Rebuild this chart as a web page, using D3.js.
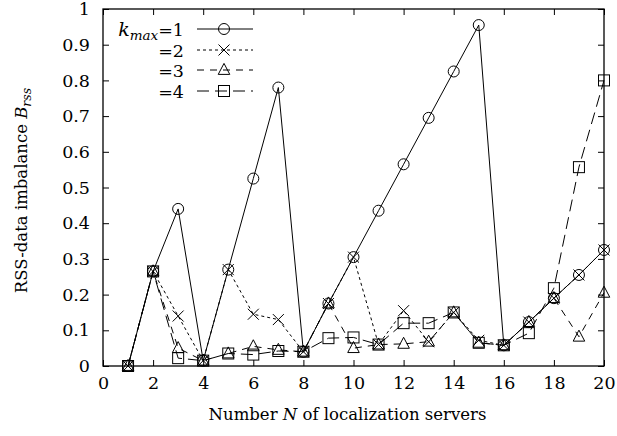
<!DOCTYPE html>
<html>
<head>
<meta charset="utf-8">
<script src="https://cdn.jsdelivr.net/npm/d3@7"></script>
<style>
  html, body { margin: 0; padding: 0; background: #fff; }
  svg { display: block; }
  svg text { font-family: "DejaVu Serif", serif; fill: #000; }
</style>
</head>
<body>
<svg id="chart" width="617" height="436"></svg>
<script>
// Number of localization servers N
const servers = [1, 2, 3, 4, 5, 6, 7, 8, 9, 10, 11, 12, 13, 14, 15, 16, 17, 18, 19, 20];

// RSS-data imbalance B_rss for each k_max
const kmax1 = [0, 0.265, 0.44, 0.015, 0.27, 0.525, 0.78, 0.04, 0.175, 0.305, 0.435, 0.565, 0.695, 0.825, 0.955, 0.058, 0.123, 0.19, 0.255, 0.325];
const kmax2 = [0, 0.265, 0.14, 0.015, 0.27, 0.145, 0.13, 0.04, 0.175, 0.305, 0.06, 0.155, 0.068, 0.15, 0.072, 0.058, 0.123, 0.19, 0.255, 0.325];
const kmax3 = [0, 0.265, 0.05, 0.015, 0.035, 0.055, 0.045, 0.04, 0.175, 0.05, 0.06, 0.062, 0.068, 0.15, 0.065, 0.058, 0.123, 0.19, 0.082, 0.205];
const kmax4 = [0, 0.265, 0.022, 0.015, 0.035, 0.032, 0.042, 0.04, 0.078, 0.08, 0.06, 0.12, 0.12, 0.15, 0.065, 0.058, 0.092, 0.218, 0.557, 0.8];

const seriesLabels = ["=1", "=2", "=3", "=4"];

const xTicks = [0, 2, 4, 6, 8, 10, 12, 14, 16, 18, 20];
const yTicks = [0, 0.1, 0.2, 0.3, 0.4, 0.5, 0.6, 0.7, 0.8, 0.9, 1];
const yTickLabels = ["0", "0.1", "0.2", "0.3", "0.4", "0.5", "0.6", "0.7", "0.8", "0.9", "1"];

const svg = d3.select("#chart");
const plotLeft = 103, plotRight = 604, plotTop = 9, plotBottom = 366;
const x = d3.scaleLinear().domain([0, 20]).range([plotLeft, plotRight]);
const y = d3.scaleLinear().domain([0, 1]).range([plotBottom, plotTop]);
const tickFont = 17.5;
const titleFont = 16.5;

// Axes with inward ticks, mirrored on top and right
const tickLen = 6;
svg.append("g").attr("transform", `translate(0,${plotBottom})`)
  .call(d3.axisBottom(x).tickValues(xTicks).tickSize(-tickLen).tickPadding(11).tickFormat(d3.format("d")))
  .call(g => g.select(".domain").remove());
svg.append("g").attr("transform", `translate(0,${plotTop})`)
  .call(d3.axisTop(x).tickValues(xTicks).tickSize(-tickLen).tickFormat(""))
  .call(g => g.select(".domain").remove());
svg.append("g").attr("transform", `translate(${plotLeft},0)`)
  .call(d3.axisLeft(y).tickValues(yTicks).tickSize(-tickLen).tickPadding(13).tickFormat((d, i) => yTickLabels[i]))
  .call(g => g.select(".domain").remove());
svg.append("g").attr("transform", `translate(${plotRight},0)`)
  .call(d3.axisRight(y).tickValues(yTicks).tickSize(-tickLen).tickFormat(""))
  .call(g => g.select(".domain").remove());

svg.selectAll(".tick line").attr("stroke", "#000").attr("stroke-width", 1);
svg.selectAll(".tick text").style("font-size", tickFont + "px");

// Frame
svg.append("rect")
  .attr("x", plotLeft).attr("y", plotTop)
  .attr("width", plotRight - plotLeft).attr("height", plotBottom - plotTop)
  .attr("fill", "none").attr("stroke", "#000").attr("stroke-width", 1.3);

// Point markers: circle, cross, triangle, square
const R = 5.5;
function drawMarker(g, kind, cx, cy) {
  let el;
  if (kind === 0) {
    el = g.append("circle").attr("cx", cx).attr("cy", cy).attr("r", R);
  } else if (kind === 1) {
    el = g.append("path").attr("d", `M${cx - R},${cy - R}L${cx + R},${cy + R}M${cx - R},${cy + R}L${cx + R},${cy - R}`);
  } else if (kind === 2) {
    el = g.append("path").attr("d", `M${cx},${cy - R * 1.2}L${cx + R * 1.05},${cy + R * 0.8}L${cx - R * 1.05},${cy + R * 0.8}Z`);
  } else {
    el = g.append("rect").attr("x", cx - R).attr("y", cy - R).attr("width", 2 * R).attr("height", 2 * R);
  }
  el.attr("fill", "none").attr("stroke", "#000").attr("stroke-width", 1);
}

const allSeries = [kmax1, kmax2, kmax3, kmax4];
const dashes = [null, "3,3", "7,6", "12,6"];
const line = d3.line().x((d, i) => x(servers[i])).y(d => y(d));

allSeries.forEach((vals, s) => {
  const g = svg.append("g");
  g.append("path").attr("d", line(vals)).attr("fill", "none").attr("stroke", "#000")
    .attr("stroke-width", 1).attr("stroke-dasharray", dashes[s]);
  vals.forEach((v, i) => drawMarker(g, s, x(servers[i]), y(v)));
});

// Legend
const legX0 = 197, legX1 = 253, legMarkX = 224, legTextX = 184;
const legY = [29, 50, 70, 91];
const leg = svg.append("g");
seriesLabels.forEach((lab, s) => {
  const yy = legY[s];
  const t = leg.append("text").attr("x", legTextX).attr("y", yy + 6.5).attr("text-anchor", "end")
    .style("font-size", tickFont + "px");
  if (s === 0) {
    t.append("tspan").attr("font-style", "italic").style("font-size", "19px").text("k");
    t.append("tspan").attr("font-style", "italic").attr("dy", 4).style("font-size", "13.5px").text("max");
    t.append("tspan").attr("dy", -4).text(lab);
  } else {
    t.text(lab);
  }
  leg.append("line").attr("x1", legX0).attr("x2", legX1).attr("y1", yy).attr("y2", yy)
    .attr("stroke", "#000").attr("stroke-width", 1).attr("stroke-dasharray", dashes[s]);
  drawMarker(leg, s, legMarkX, yy);
});

// Axis titles
svg.append("text").attr("x", (plotLeft + plotRight) / 2 - 6).attr("y", 420).attr("text-anchor", "middle")
  .style("font-size", titleFont + "px")
  .call(t => {
    t.append("tspan").text("Number ");
    t.append("tspan").attr("font-style", "italic").text("N");
    t.append("tspan").text(" of localization servers");
  });

svg.append("text").attr("transform", `translate(27,${(plotTop + plotBottom) / 2 + 3}) rotate(-90)`)
  .attr("text-anchor", "middle").style("font-size", titleFont + "px")
  .call(t => {
    t.append("tspan").text("RSS-data imbalance ");
    t.append("tspan").attr("font-style", "italic").text("B");
    t.append("tspan").attr("font-style", "italic").attr("dy", 4).style("font-size", "12.5px").text("rss");
  });
</script>
</body>
</html>
